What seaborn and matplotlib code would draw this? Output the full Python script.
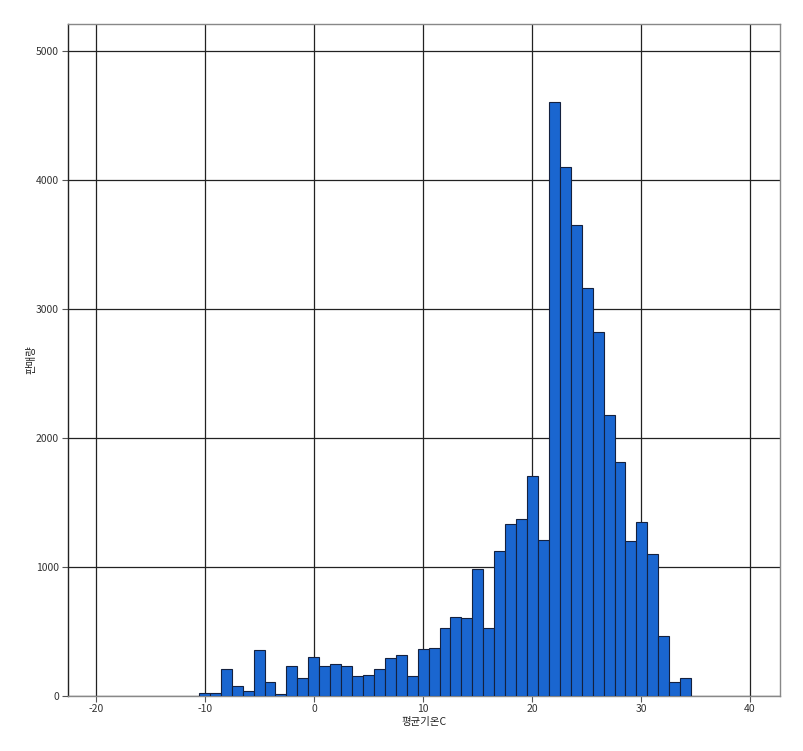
import numpy as np
import pandas as pd
import matplotlib
matplotlib.use("Agg")
import matplotlib.pyplot as plt
import seaborn as sns

# ---- data ----
bin_start = -10.55
bin_width = 1.0033
counts = [20, 20, 212, 75, 41, 357, 108, 15, 232, 140,
          305, 232, 248, 232, 155, 165, 212, 297, 315, 157,
          362, 372, 530, 615, 607, 984, 530, 1127, 1336, 1370,
          1705, 1207, 4607, 4098, 3651, 3163, 2824, 2176, 1811, 1202,
          1346, 1100, 462, 106, 140]
x_ticks = [-20, -10, 0, 10, 20, 30, 40]
y_ticks = [0, 1000, 2000, 3000, 4000, 5000]
x_label = "평균기온C"
y_label = "판매량"

n = len(counts)
edges = bin_start + bin_width * np.arange(n + 1)
centers = (edges[:-1] + edges[1:]) / 2
df = pd.DataFrame({"temp": centers, "count": counts})

sns.set_theme(style="white")
plt.rcParams["font.family"] = ["Noto Sans CJK KR", "DejaVu Sans"]

fig = plt.figure(figsize=(8.04, 7.51), dpi=100)
ax = fig.add_axes([67.5 / 804, 55 / 751, (780 - 67.5) / 804, (696 - 24) / 751])

sns.histplot(data=df, x="temp", weights="count", binwidth=bin_width,
             binrange=(float(edges[0]), float(edges[-1])), ax=ax,
             color="#1a66d0", edgecolor="#14213f", linewidth=0.8, alpha=1.0,
             zorder=3)

ax.set_xlim(-22.6, 42.75)
ax.set_ylim(0, 5209)
ax.set_xticks(x_ticks)
ax.set_yticks(y_ticks)
ax.set_xticklabels([str(t) for t in x_ticks])
ax.set_yticklabels([str(t) for t in y_ticks])

ax.grid(True, color="#222222", linewidth=0.9, zorder=0)
ax.set_axisbelow(True)

for side in ["top", "right", "bottom"]:
    ax.spines[side].set_color("#888888")
    ax.spines[side].set_linewidth(1.0)
ax.spines["left"].set_color("#222222")
ax.spines["left"].set_linewidth(1.0)

ax.tick_params(axis="both", which="major", labelsize=7.5, length=4,
               width=0.8, color="#555555", labelcolor="#333333",
               direction="out", pad=2, bottom=True, left=True)

ax.set_xlabel(x_label, fontsize=7.5, color="#222222", labelpad=2)
ax.set_ylabel(y_label, fontsize=7.5, color="#222222", labelpad=0)

fig.savefig("out.png", dpi=100, facecolor="white")
